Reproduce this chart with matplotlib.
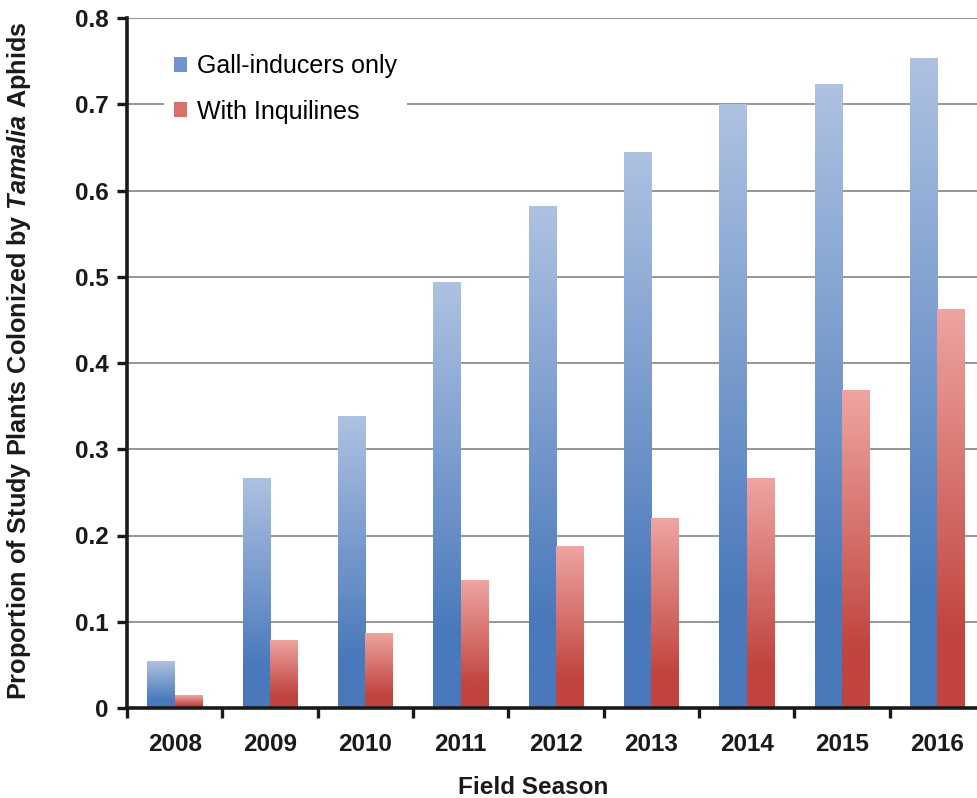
import numpy as np
import matplotlib
matplotlib.use("Agg")
import matplotlib.pyplot as plt
from matplotlib.colors import LinearSegmentedColormap
from matplotlib.patches import Rectangle

plt.rcParams['font.family'] = ['Liberation Sans', 'DejaVu Sans']
plt.rcParams['mathtext.fontset'] = 'custom'
plt.rcParams['mathtext.bfit'] = 'Liberation Sans:italic:bold'
plt.rcParams['mathtext.bf'] = 'Liberation Sans:bold'
plt.rcParams['mathtext.it'] = 'Liberation Sans:italic'
plt.rcParams['mathtext.rm'] = 'Liberation Sans'

years = ['2008', '2009', '2010', '2011', '2012', '2013', '2014', '2015', '2016']
gall_only = [0.054, 0.267, 0.339, 0.494, 0.582, 0.645, 0.700, 0.723, 0.754]
with_inq = [0.015, 0.079, 0.087, 0.148, 0.188, 0.220, 0.267, 0.369, 0.463]
series_names = ['Gall-inducers only', 'With Inquilines']
yticks = [0, 0.1, 0.2, 0.3, 0.4, 0.5, 0.6, 0.7, 0.8]

blue_light, blue_dark = '#aec2e2', '#4a79bb'
red_light, red_dark = '#eea5a2', '#c1443e'

W, H = 977, 798
fig = plt.figure(figsize=(W / 100, H / 100), dpi=100)
ax = fig.add_axes([127 / W, (H - 708) / H, 858 / W, 690 / H])

x = np.arange(len(years))
bw = 0.285
bars1 = ax.bar(x - bw / 2, gall_only, bw, color=blue_dark, zorder=2, label=series_names[0], linewidth=0)
bars2 = ax.bar(x + bw / 2, with_inq, bw, color=red_dark, zorder=2, label=series_names[1], linewidth=0)


def grad_cmap(light, dark):
    return LinearSegmentedColormap.from_list('g', [(0, dark), (0.18, dark), (1, light)])


def fill_gradient(bars, light, dark):
    cm = grad_cmap(light, dark)
    g = np.linspace(0, 1, 256).reshape(-1, 1)
    for b in bars:
        x0, y0 = b.get_x(), b.get_y()
        w, h = b.get_width(), b.get_height()
        im = ax.imshow(g, cmap=cm, origin='lower', aspect='auto',
                       extent=[x0, x0 + w, y0, y0 + h], zorder=2.5, interpolation='bilinear')
        im.set_clip_path(b)


fill_gradient(bars1, blue_light, blue_dark)
fill_gradient(bars2, red_light, red_dark)

ax.set_xlim(-0.5, len(years) - 0.5)
ax.set_ylim(0, 0.8)
ax.set_yticks(yticks)
ax.set_yticklabels(['0' if v == 0 else f'{v:.1f}' for v in yticks])
ax.set_xticks(x)
ax.set_xticklabels(years)
ax.set_xticks(np.arange(-0.5, len(years), 1.0), minor=True)

ax.yaxis.grid(True, color='#8e8e8e', linewidth=1.3, zorder=0)
ax.set_axisbelow(True)

for s in ['top', 'right']:
    ax.spines[s].set_visible(False)
for s in ['left', 'bottom']:
    ax.spines[s].set_linewidth(2.6)
    ax.spines[s].set_color('#1a1a1a')

ax.tick_params(axis='y', length=7, width=2.4, color='#1a1a1a', labelsize=17.5, pad=6)
ax.tick_params(axis='x', which='major', length=0, labelsize=17.5, pad=18)
ax.tick_params(axis='x', which='minor', length=7, width=2.4, color='#1a1a1a')
for lbl in ax.get_xticklabels() + ax.get_yticklabels():
    lbl.set_fontweight('bold')
    lbl.set_color('#1a1a1a')

ax.set_xlabel('Field Season', fontsize=17.5, fontweight='bold', color='#1a1a1a')
ax.xaxis.set_label_coords((533 - 127) / 858, -(776 - 708) / 690)
ax.set_ylabel(r'Proportion of Study Plants Colonized by $\mathbfit{Tamalia}$ Aphids',
              fontsize=18.2, fontweight='bold', color='#1a1a1a')
ax.yaxis.set_label_coords(-(127 - 33) / 858, (708 - 361) / 690)

h1 = Rectangle((0, 0), 1, 1, facecolor='#6f95cf', edgecolor='none')
h2 = Rectangle((0, 0), 1, 1, facecolor='#dc6f6a', edgecolor='none')
leg = ax.legend([h1, h2], series_names, loc='upper left',
                bbox_to_anchor=((151 - 127) / 858, (708 - 32) / 690),
                fontsize=18, frameon=True, facecolor='white', edgecolor='none',
                framealpha=1, handlelength=0.55, handleheight=0.55, handletextpad=0.4,
                labelspacing=0.85, borderpad=0.4, fancybox=False)
leg.set_zorder(5)

fig.savefig('out.png', dpi=100)
